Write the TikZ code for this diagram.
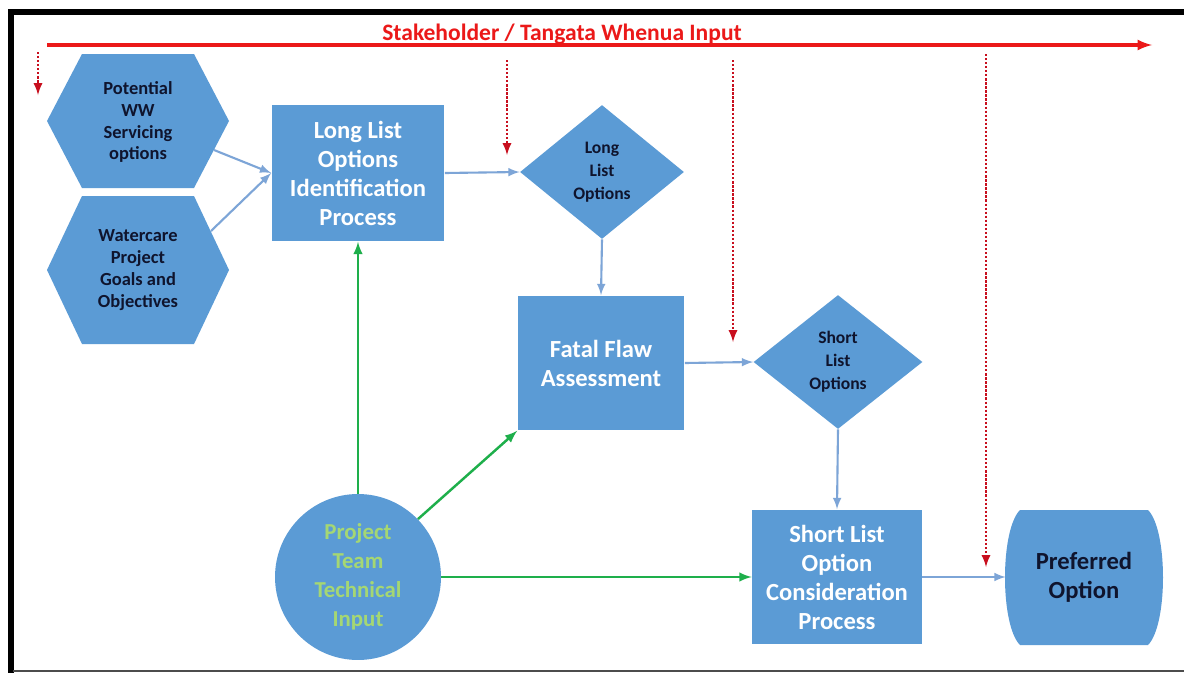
\documentclass[tikz,border=0pt]{standalone}
\usepackage{fontspec}
\setmainfont{Carlito}
\usetikzlibrary{shapes.geometric}
\definecolor{boxblue}{RGB}{91,155,213}
\definecolor{linkblue}{RGB}{125,165,215}
\definecolor{teamgreen}{RGB}{30,175,75}
\definecolor{textgreen}{RGB}{165,215,115}
\definecolor{stakered}{RGB}{235,25,25}
\definecolor{dotred}{RGB}{200,15,30}
\definecolor{darktext}{RGB}{15,20,45}

\begin{document}
\begin{tikzpicture}[x=0.02cm,y=-0.02cm,
	procbox/.style={rectangle,fill=boxblue,text=white,align=center,inner sep=0pt,
		font=\bfseries\fontsize{14}{16.5}\selectfont},
	optdiam/.style={diamond,fill=boxblue,text=darktext,align=center,inner sep=0pt,
		font=\bfseries\fontsize{10}{13}\selectfont},
	hextext/.style={text=darktext,align=center,inner sep=0pt,
		font=\bfseries\fontsize{10.5}{12.5}\selectfont},
	flow/.style={linkblue,line width=1.2pt,-latex},
	tech/.style={teamgreen,line width=1.4pt,-latex},
	stakein/.style={dotred,line width=1.3pt,densely dotted,-latex}]
	\useasboundingbox[fill=white] (0,0) rectangle (1184,673);

	% frame
	\draw[line width=3pt] (1184,12) -- (11,12) -- (11,673);
	\draw[black!70,line width=1pt] (13,671) -- (1184,671);

	% stakeholder input
	\coordinate (StakeStart) at (47,45);
	\coordinate (StakeEnd)   at (1152,45);
	\draw[stakered,line width=1.8pt,-latex] (StakeStart) -- (StakeEnd);
	\node[text=stakered,font=\bfseries\fontsize{13.4}{15}\selectfont,anchor=base] (stake) at (562,40) {Stakeholder / Tangata Whenua Input};
	\foreach \i/\x/\ya/\yb in {1/38/52/95, 2/507/60/155, 3/733/60/342, 4/986/54/567}{
		\coordinate (in\i a) at (\x,\ya);
		\coordinate (in\i b) at (\x,\yb);
		\draw[stakein] (in\i a) -- (in\i b);
	}

	% hexagons
	\fill[boxblue,shift={(138,121)}] (-91,0) -- (-56,-67) -- (56,-67) -- (91,0) -- (56,67) -- (-56,67) -- cycle;
	\fill[boxblue,shift={(138,270)}] (-91,0) -- (-56,-74) -- (56,-74) -- (91,0) -- (56,74) -- (-56,74) -- cycle;
	\node[hextext] (potential) at (138,122) {Potential\\WW\\Servicing\\options};
	\node[hextext] (goals) at (138,270) {Watercare\\Project\\Goals and\\Objectives};
	\coordinate (potentialout) at (214,150);
	\coordinate (goalsout) at (211,231);

	% preferred option outline
	\fill[boxblue] (1020,510) -- (1148,510) .. controls (1168,530) and (1168,625) .. (1148,645)
		-- (1020,645) .. controls (1000,625) and (1000,530) .. (1020,510);

	% process
	\node[procbox,minimum width=3.46cm,minimum height=2.74cm] (longlist) at (358,173) {Long List\\Options\\Identification\\Process};
	\node[optdiam,minimum width=3.28cm,minimum height=2.68cm] (llopt) at (602,172) {Long\\List\\Options};
	\node[procbox,minimum width=3.34cm,minimum height=2.7cm] (fatal) at (601,363) {Fatal Flaw\\Assessment};
	\node[optdiam,minimum width=3.38cm,minimum height=2.68cm] (slopt) at (838,362) {Short\\List\\Options};
	\node[procbox,minimum width=3.4cm,minimum height=2.7cm] (slproc) at (837,577) {Short List\\Option\\Consideration\\Process};
	\node[rectangle,text=darktext,align=center,inner sep=0pt,
		font=\bfseries\fontsize{14}{16.5}\selectfont,minimum width=3.12cm,minimum height=2.7cm] (preferred) at (1084,577) {Preferred\\Option};
	\node[circle,fill=boxblue,text=textgreen,align=center,inner sep=0pt,minimum size=3.32cm,
		font=\bfseries\fontsize{13}{16.5}\selectfont] (team) at (358,577) {Project\\Team\\Technical\\Input};

	\draw[flow] (potentialout) -- (longlist.west);
	\draw[flow] (goalsout) -- (longlist.west);
	\draw[flow] (longlist.east) -- (llopt.west);
	\draw[flow] (llopt.south) -- (fatal.north);
	\draw[flow] (fatal.east) -- (slopt.west);
	\draw[flow] (slopt.south) -- (slproc.north);
	\draw[flow] (slproc.east) -- (preferred.west);

	\draw[tech] (team.north) -- (longlist.south);
	\draw[tech] (team.44) -- (fatal.south west);
	\draw[tech] (team.east) -- (slproc.west);
\end{tikzpicture}
\end{document}
